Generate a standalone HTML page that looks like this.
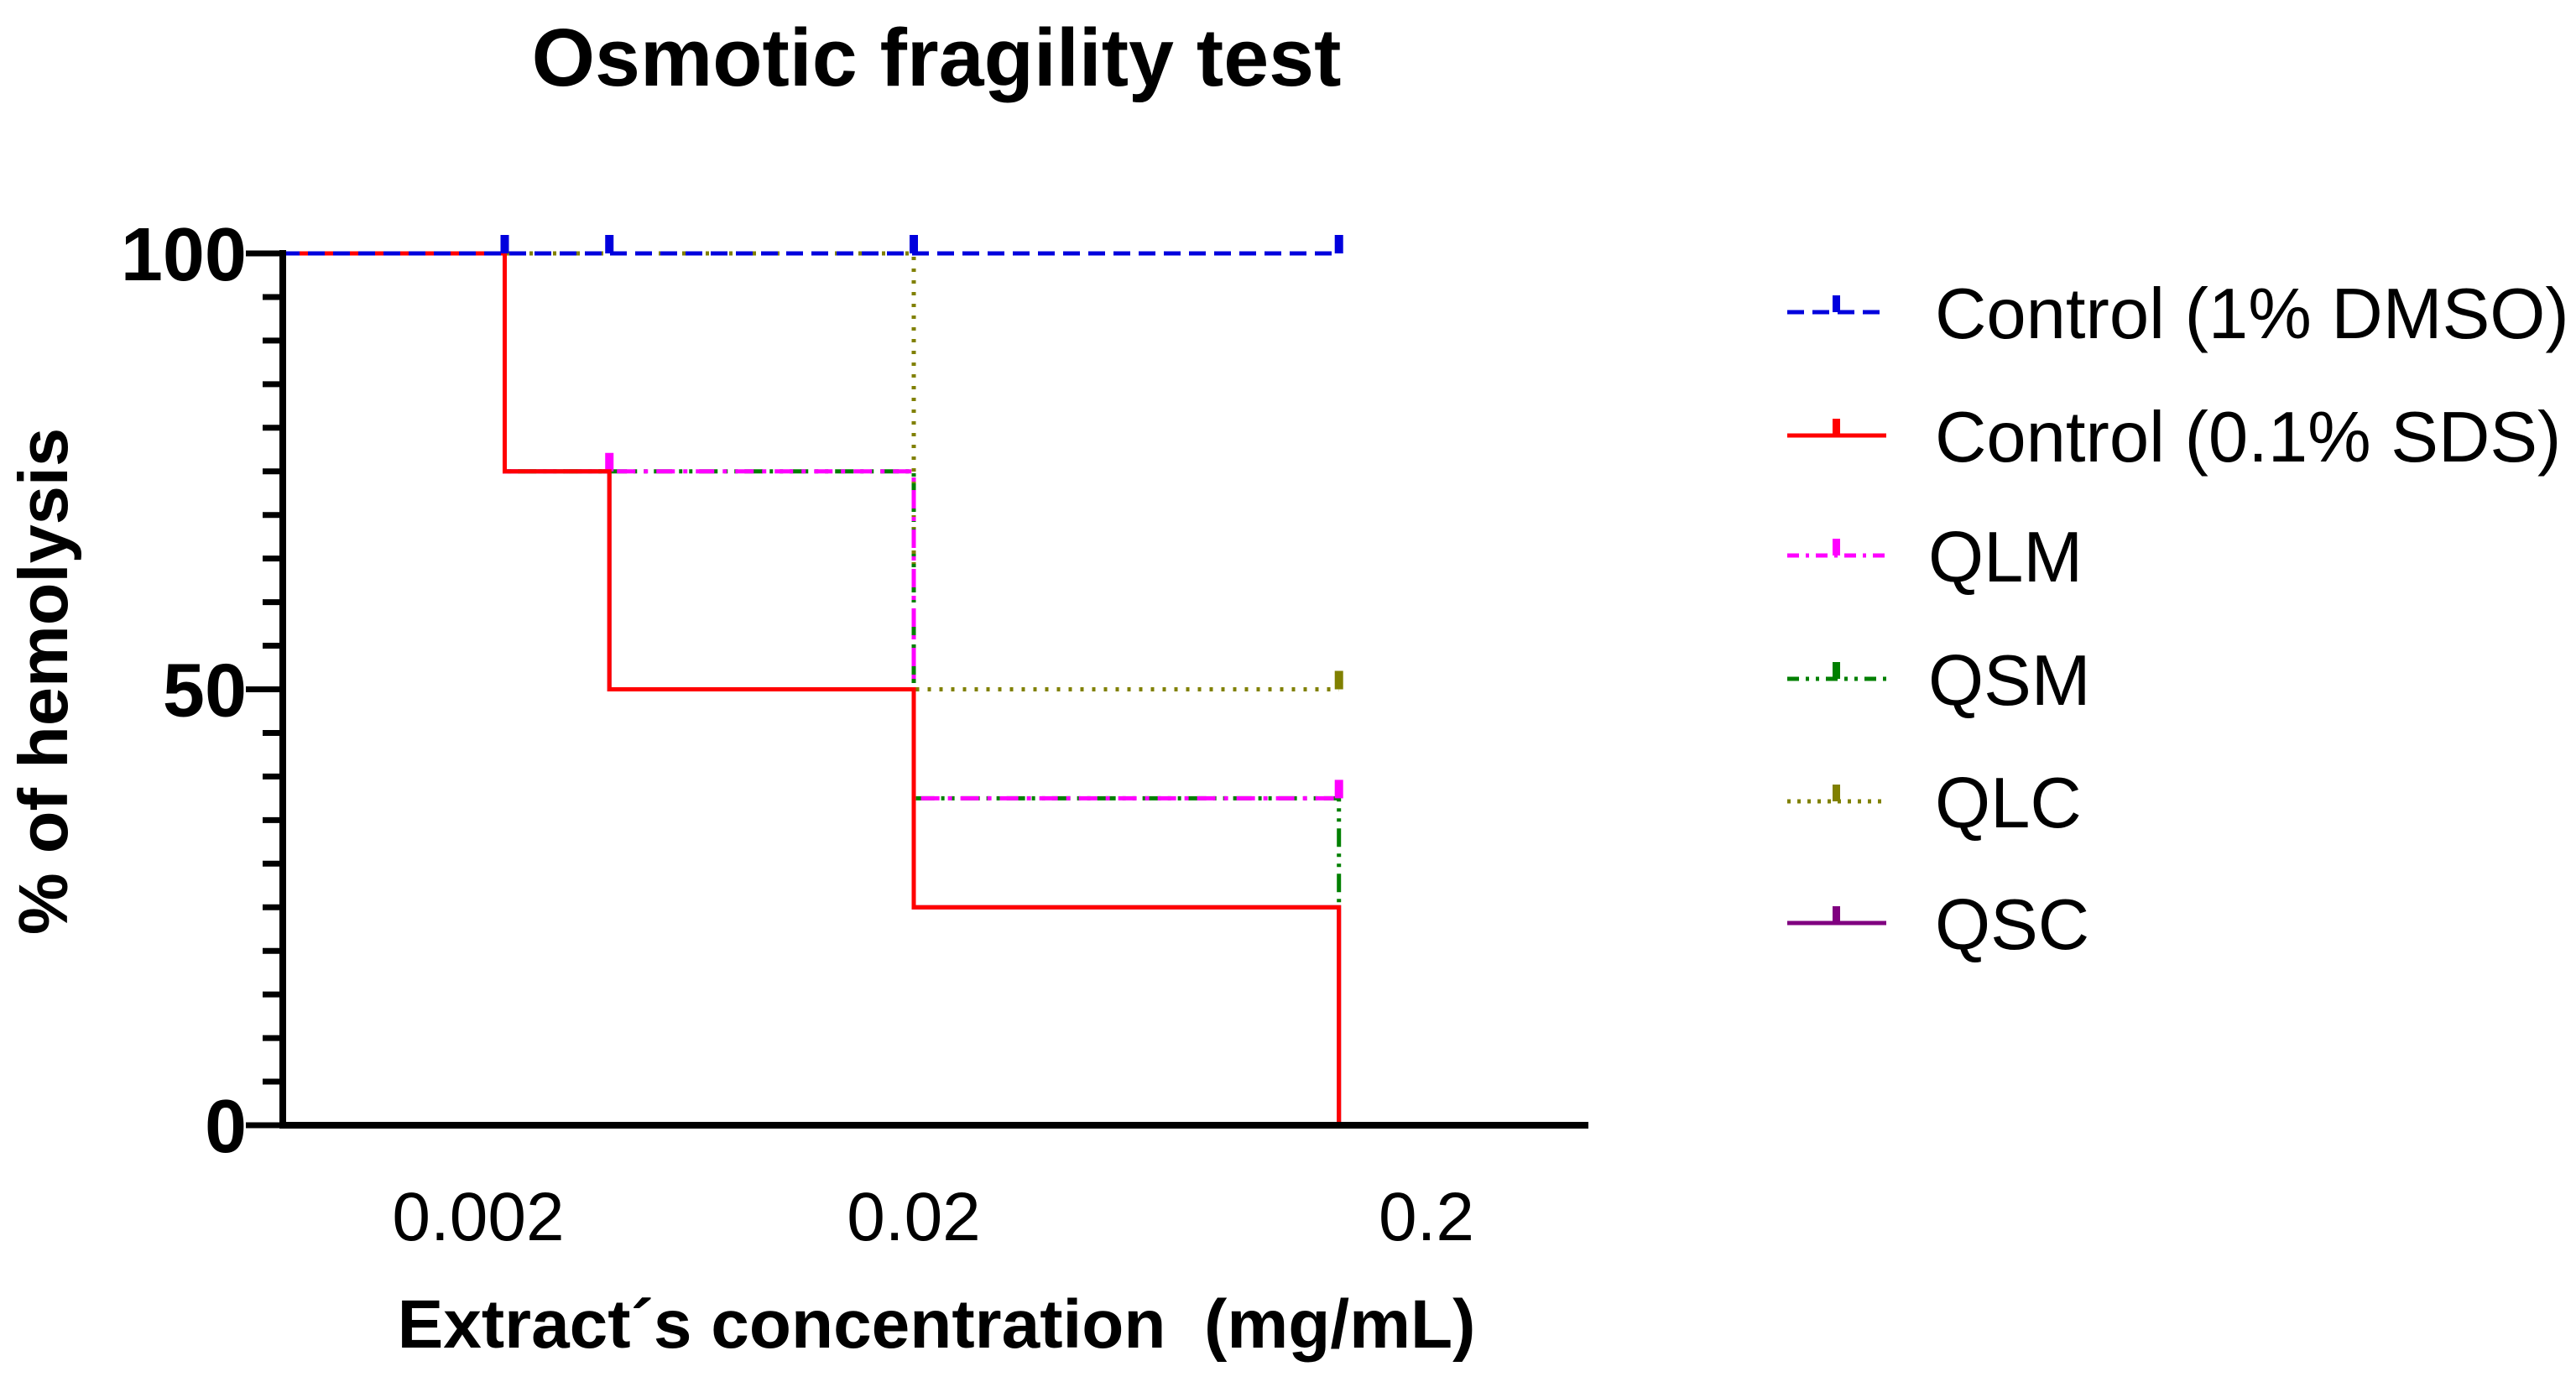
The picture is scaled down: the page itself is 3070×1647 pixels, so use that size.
<!DOCTYPE html>
<html><head><meta charset="utf-8"><style>
html,body{margin:0;padding:0;background:#fff;}
svg{display:block;font-family:"Liberation Sans",Arial,sans-serif;}
</style></head><body>
<svg id="chart" width="3070" height="1647" viewBox="0 0 3070 1647">
<text x="1116" y="102" font-size="97" font-weight="bold" text-anchor="middle">Osmotic fragility test</text>
<g id="plot"></g>
<g id="axes"></g>
<text transform="translate(80,812) rotate(-90)" font-size="83" font-weight="bold" text-anchor="middle">% of hemolysis</text>
<text x="1116" y="1606" font-size="82" font-weight="bold" text-anchor="middle">Extract´s concentration&#160; (mg/mL)</text>
<g id="legend"></g>
</svg>
<script>
// ---- data ----
const xTickValues = [0.002, 0.02, 0.2];
const xTickLabels = ["0.002", "0.02", "0.2"];
const yTickValues = [0, 50, 100];
const yTickLabels = ["0", "50", "100"];
const concentrations = [0.00123, 0.0023, 0.004, 0.02, 0.135];
const seriesNames = ["Control (1% DMSO)", "Control (0.1% SDS)", "QLM", "QSM", "QLC", "QSC"];
const dmsoValues = [100, 100, 100, 100, 100];
const sdsValues = [100, 75, 50, 25, 0];
const qlmValues = [100, 75, 75, 37.5, 37.5];
const qsmValues = [100, 75, 75, 37.5, 25];
const qlcValues = [100, 100, 100, 50, 50];
const qscValues = [100, 75, 50, 25, 0];
const dmsoCensor = [1, 2, 3, 4];
const qlmCensor = [2, 4];
const qsmCensor = [];
const qlcCensor = [4];

// ---- scales ----
const X0 = 337, XEND = 1893, Y0 = 1341, Y100 = 302;
const anchorsV = [0.002, 0.02, 0.2], anchorsP = [570, 1089, 1700];
function xs(v){
  const l = Math.log10(v);
  let i = l < Math.log10(anchorsV[1]) ? 0 : 1;
  const a = Math.log10(anchorsV[i]), b = Math.log10(anchorsV[i+1]);
  return anchorsP[i] + (l - a) / (b - a) * (anchorsP[i+1] - anchorsP[i]);
}
function ys(v){ return Y0 - v / 100 * (Y0 - Y100); }
const NS = "http://www.w3.org/2000/svg";
function mk(tag, attrs, parent){ const e = document.createElementNS(NS, tag); for (const k in attrs) e.setAttribute(k, attrs[k]); parent.appendChild(e); return e; }

const plot = document.getElementById('plot');
const styles = [
  {vals: qscValues, color: "#800080", dash: "", cens: [], name: "series-qsc"},
  {vals: qlcValues, color: "#808000", dash: "4 10", cens: qlcCensor, name: "series-qlc"},
  {vals: qsmValues, color: "#008000", dash: "22 8 4 8 4 8", cens: qsmCensor, name: "series-qsm"},
  {vals: qlmValues, color: "#ff00ff", dash: "22 10 5 10", cens: qlmCensor, name: "series-qlm"},
  {vals: sdsValues, color: "#ff0000", dash: "", cens: [], name: "series-sds"},
  {vals: dmsoValues, color: "#0000dd", dash: "20 10", cens: dmsoCensor, name: "series-dmso"}
];
styles.forEach(s => {
  let d = "M" + X0 + "," + ys(s.vals[0]);
  for (let i = 1; i < concentrations.length; i++) {
    const x = xs(concentrations[i]);
    d += " L" + x + "," + ys(s.vals[i-1]) + " L" + x + "," + ys(s.vals[i]);
  }
  const p = mk('path', {d: d, fill: "none", stroke: s.color, "stroke-width": 5, "stroke-dasharray": s.dash}, plot);
  
  
  s.cens.forEach(ci => {
    const x = xs(concentrations[ci]);
    const yy = ys(s.vals[ci]);
    const r = mk('rect', {x: x - 5, y: yy - 22, width: 10, height: 22, fill: s.color}, plot);
    
    
  });
});

// ---- axes ----
const axes = document.getElementById('axes');
let a = mk('line', {x1: X0, y1: Y100 - 4, x2: X0, y2: Y0 + 4, stroke: "#000", "stroke-width": 8}, axes);


a = mk('line', {x1: X0 - 4, y1: Y0, x2: XEND, y2: Y0, stroke: "#000", "stroke-width": 8}, axes);


for (let v = 0; v <= 100; v += 5) {
  const major = v % 50 === 0;
  const t = mk('line', {x1: X0 - (major ? 44 : 24), y1: ys(v), x2: X0, y2: ys(v), stroke: "#000", "stroke-width": 7}, axes);
  
  
}
yTickValues.forEach((v, i) => {
  const t = mk('text', {x: 294, y: ys(v) + 32, "font-size": 90, "font-weight": "bold", "text-anchor": "end"}, axes);
  t.textContent = yTickLabels[i];
  
  
});
xTickValues.forEach((v, i) => {
  const t = mk('text', {x: xs(v), y: 1478, "font-size": 82, "text-anchor": "middle"}, axes);
  t.textContent = xTickLabels[i];
  
  
});

// ---- legend ----
const legend = document.getElementById('legend');
const legColors = ["#0000dd", "#ff0000", "#ff00ff", "#008000", "#808000", "#800080"];
const legDash = ["20 10", "", "14 8 4 8", "14 8 4 8 4 8", "4 8", ""];
const legY = [372, 519, 662, 809, 955, 1100];
const legTextX = [2306, 2306, 2298, 2298, 2306, 2306];
seriesNames.forEach((n, i) => {
  const g = mk('g', {}, legend);
  
  
  mk('line', {x1: 2130, y1: legY[i], x2: 2248, y2: legY[i], stroke: legColors[i], "stroke-width": 5, "stroke-dasharray": legDash[i]}, g);
  mk('rect', {x: 2184, y: legY[i] - 20, width: 9, height: 20, fill: legColors[i]}, g);
  const t = mk('text', {x: legTextX[i], y: legY[i] + 31, "font-size": 85}, g);
  t.textContent = n;
});
</script>
</body></html>
